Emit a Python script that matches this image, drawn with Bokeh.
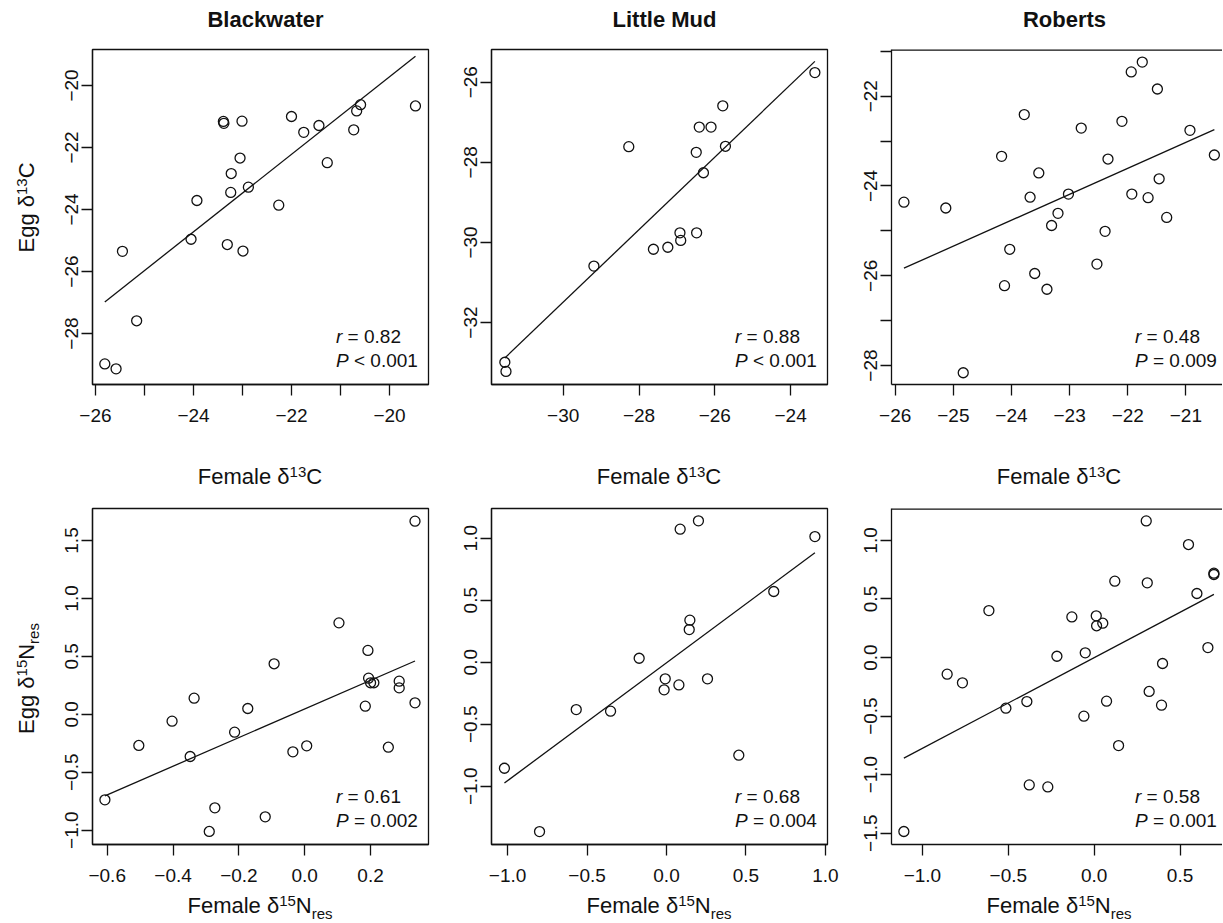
import math
from bokeh.plotting import figure
from bokeh.layouts import gridplot
from bokeh.models import Range1d, FixedTicker, Label, Span
from bokeh.embed import file_html
from bokeh.resources import INLINE

# ---------------- data ----------------
sites = ["Blackwater", "Little Mud", "Roberts"]

bw_c_female = [-25.81, -25.58, -25.45, -25.16, -24.05, -23.93, -23.39, -23.38, -23.01, -23.05,
               -23.23, -23.24, -22.88, -23.31, -22.99, -22.26, -22.00, -21.75, -21.44, -21.27,
               -20.73, -20.67, -20.59, -19.47]
bw_c_egg = [-28.98, -29.14, -25.35, -27.59, -24.96, -23.71, -21.16, -21.22, -21.15, -22.34,
            -22.84, -23.45, -23.28, -25.13, -25.34, -23.86, -21.00, -21.51, -21.29, -22.49,
            -21.43, -20.82, -20.62, -20.66]

lm_c_female = [-31.54, -31.51, -29.19, -28.27, -27.62, -27.24, -26.92, -26.90, -26.48, -26.49,
               -26.41, -26.10, -26.30, -25.72, -25.79, -23.36]
lm_c_egg = [-32.99, -33.22, -30.59, -27.61, -30.17, -30.12, -29.76, -29.95, -29.76, -27.75,
            -27.12, -27.12, -28.26, -27.60, -26.59, -25.76]

rb_c_female = [-25.85, -25.13, -24.83, -24.17, -24.12, -24.03, -23.78, -23.68, -23.53, -23.60,
               -23.39, -23.31, -23.20, -23.02, -22.80, -22.53, -22.39, -22.34, -22.10, -21.94,
               -21.75, -21.93, -21.65, -21.49, -21.46, -21.33, -20.93, -20.51]
rb_c_egg = [-24.36, -24.49, -28.16, -23.34, -26.22, -25.41, -22.41, -24.25, -23.71, -25.95,
            -26.30, -24.88, -24.61, -24.18, -22.71, -25.74, -25.01, -23.40, -22.56, -21.46,
            -21.24, -24.18, -24.26, -21.84, -23.84, -24.70, -22.76, -23.31]

bw_n_female = [-0.607, -0.504, -0.403, -0.336, -0.348, -0.290, -0.273, -0.213, -0.173, -0.120,
               -0.093, -0.036, 0.006, 0.104, 0.192, 0.194, 0.200, 0.210, 0.184, 0.254,
               0.287, 0.287, 0.335, 0.335]
bw_n_egg = [-0.738, -0.269, -0.059, 0.139, -0.364, -1.011, -0.807, -0.154, 0.050, -0.885,
            0.436, -0.324, -0.272, 0.789, 0.551, 0.312, 0.272, 0.272, 0.070, -0.284,
            0.286, 0.228, 0.099, 1.667]

lm_n_female = [-1.020, -0.799, -0.568, -0.352, -0.172, -0.008, -0.015, 0.078, 0.086, 0.201,
               0.147, 0.143, 0.258, 0.455, 0.675, 0.934]
lm_n_egg = [-0.855, -1.366, -0.382, -0.395, 0.032, -0.134, -0.223, -0.183, 1.073, 1.140,
            0.339, 0.263, -0.134, -0.750, 0.570, 1.013]

rb_n_female = [-1.108, -0.856, -0.767, -0.613, -0.514, -0.392, -0.378, -0.270, -0.217, -0.130,
               -0.052, -0.060, 0.012, 0.014, 0.050, 0.072, 0.120, 0.142, 0.303, 0.309,
               0.320, 0.392, 0.398, 0.549, 0.598, 0.662, 0.697, 0.697]
rb_n_egg = [-1.486, -0.142, -0.216, 0.401, -0.433, -0.376, -1.088, -1.105, 0.011, 0.347,
            0.040, -0.501, 0.356, 0.271, 0.293, -0.373, 0.652, -0.752, 1.167, 0.638,
            -0.290, -0.407, -0.051, 0.965, 0.547, 0.085, 0.720, 0.709]

# fitted regression lines (intercept, slope) as drawn
fit_c = [(5.28, 1.25), (-4.34, 0.905), (-10.89, 0.578)]
fit_n = [(0.046, 1.235), (-0.005, 0.950), (-0.001, 0.775)]

# statistics printed in each panel
stat_r = ["0.82", "0.88", "0.48", "0.61", "0.68", "0.58"]
stat_p = ["< 0.001", "< 0.001", "= 0.009", "= 0.002", "= 0.004", "= 0.001"]

# axis ticks: (ticks, labelled ticks)
xt_c = [([-26, -25, -24, -23, -22, -21, -20], [-26, -24, -22, -20]),
        ([-30, -28, -26, -24], [-30, -28, -26, -24]),
        ([-26, -25, -24, -23, -22, -21], [-26, -25, -24, -23, -22, -21])]
yt_c = [([-28, -26, -24, -22, -20], [-28, -26, -24, -22, -20]),
        ([-32, -30, -28, -26], [-32, -30, -28, -26]),
        ([-28, -27, -26, -25, -24, -23, -22, -21], [-28, -26, -24, -22])]
xt_n = [([-0.6, -0.4, -0.2, 0.0, 0.2], [-0.6, -0.4, -0.2, 0.0, 0.2]),
        ([-1.0, -0.5, 0.0, 0.5, 1.0], [-1.0, -0.5, 0.0, 0.5, 1.0]),
        ([-1.0, -0.5, 0.0, 0.5], [-1.0, -0.5, 0.0, 0.5])]
yt_n = [([-1.0, -0.5, 0.0, 0.5, 1.0, 1.5], [-1.0, -0.5, 0.0, 0.5, 1.0, 1.5]),
        ([-1.0, -0.5, 0.0, 0.5, 1.0], [-1.0, -0.5, 0.0, 0.5, 1.0]),
        ([-1.5, -1.0, -0.5, 0.0, 0.5, 1.0], [-1.5, -1.0, -0.5, 0.0, 0.5, 1.0])]

# axis limits
xlim_c = [(-26.061, -19.204), (-31.892, -23.027), (-26.064, -20.370)]
ylim_c = [(-29.645, -18.839), (-33.546, -25.184), (-28.422, -20.960)]
xlim_n = [(-0.6447, 0.3760), (-1.1013, 1.0132), (-1.180, 0.7470)]
ylim_n = [(-1.1236, 1.776), (-1.470, 1.2395), (-1.597, 1.2728)]

# ---------------- styling / layout ----------------
FONT = "Liberation Sans"
INK = "#111111"
YLAB_W = 44
COLS = [(404, 48, 20), (400, 43, 21), (374, 43, 0)]   # width, border left, border right
ROWS = [(381, 1, 45), (383, 2, 45)]                    # height, border top, border bottom
TITLE_H, XLAB1_H, XLAB2_H = 48, 77, 33
MID = 0.35   # a Label is anchored at the middle of its text box, across the text

ADV = {'F': .611, 'e': .556, 'm': .833, 'a': .556, 'l': .222, ' ': .278, 'δ': .556,
       'C': .722, 'N': .722, 'r': .333, 's': .5, 'E': .667, 'g': .556,
       '1': .556, '3': .556, '5': .556}


def tw(s, size):
    return sum(ADV.get(c, .556) for c in s) * size


def fmt(t, dec):
    s = f"{abs(t):.{dec}f}"
    return ("\u2212" + s) if t < 0 else s


def lab(p, x, base, text, size, style="normal", align="left"):
    """horizontal text; baseline `base` px above the frame bottom, x from frame left"""
    p.add_layout(Label(x=x, y=base + MID * size, x_units="screen", y_units="screen", text=text,
                       text_font=FONT, text_font_size=f"{size}px", text_font_style=style,
                       text_align=align, text_baseline="alphabetic", text_color=INK))


def vlab(p, base_x, y, text, size):
    """text reading upwards; baseline at x = base_x, starting at y (frame coords)"""
    p.add_layout(Label(x=base_x - MID * size, y=y, x_units="screen", y_units="screen", text=text,
                       text_font=FONT, text_font_size=f"{size}px", angle=math.pi / 2,
                       text_align="left", text_baseline="alphabetic", text_color=INK))


def rich_h(p, cx, base, parts):
    W = sum(tw(s, sz) for s, sz, _ in parts)
    x = cx - W / 2
    for s, sz, dy in parts:
        lab(p, x, base + dy, s, sz)
        x += tw(s, sz)


def rich_v(p, base, cy, parts):
    W = sum(tw(t, sz) for t, sz, _ in parts)
    y = cy - W / 2
    for t, sz, dx in parts:
        vlab(p, base - dx, y, t, sz)
        y += tw(t, sz)


def strip(w, h):
    s = figure(width=w, height=h, x_range=Range1d(0, 1), y_range=Range1d(0, 1),
               output_backend="svg", toolbar_location=None, min_border=0,
               x_axis_location=None, y_axis_location=None,
               background_fill_color="white", border_fill_color="white")
    s.outline_line_color = None
    s.xgrid.visible = False
    s.ygrid.visible = False
    return s


def panel(ci, ri, xs, ys, fit, xlim, ylim, xt, yt, dec, r_txt, p_txt):
    w, bl, br = COLS[ci]
    h, bt, bb = ROWS[ri]
    p = figure(width=w, height=h, x_range=Range1d(*xlim), y_range=Range1d(*ylim),
               output_backend="svg", toolbar_location=None,
               min_border_left=bl, min_border_right=br, min_border_top=bt, min_border_bottom=bb,
               background_fill_color="white", border_fill_color="white")
    p.xgrid.visible = False
    p.ygrid.visible = False
    if ci == 2:
        p.outline_line_color = None
        p.add_layout(Span(location=ylim[1], dimension="width", line_color=INK, line_width=2.6))
    else:
        p.outline_line_color = INK
        p.outline_line_width = 1.3
        p.outline_line_alpha = 1.0
    xax, yax = p.below[0], p.left[0]
    for ax, (ticks, shown) in ((xax, xt), (yax, yt)):
        ax.ticker = FixedTicker(ticks=ticks)
        ax.major_label_overrides = {t: (fmt(t, dec) if t in shown else "") for t in ticks}
        ax.axis_line_width = 1.3
        ax.axis_line_color = INK
        ax.major_tick_line_width = 1.3
        ax.major_tick_line_color = INK
        ax.major_tick_in = 0
        ax.major_tick_out = 11
        ax.minor_tick_line_color = None
        ax.major_label_text_font = FONT
        ax.major_label_text_font_size = "19px"
        ax.major_label_text_color = INK
    xax.major_label_standoff = 13
    yax.major_label_standoff = 3
    yax.major_label_orientation = "vertical"

    p.scatter(xs, ys, marker="circle", size=10, fill_color=None, line_color=INK, line_width=1.3)
    a, b = fit
    x0, x1 = min(xs), max(xs)
    p.line([x0, x1], [a + b * x0, a + b * x1], line_color=INK, line_width=1.3)

    # statistics (frame-relative)
    lab(p, 243.5, 41, "r", 19, style="italic")
    lab(p, 243.5 + (0.333 + 0.278) * 19, 41, "= " + r_txt, 19)
    lab(p, 243.5, 17.6, "P", 19, style="italic")
    lab(p, 243.5 + (0.667 + 0.278) * 19, 17.6, p_txt, 19)
    return p


c_data = [(bw_c_female, bw_c_egg), (lm_c_female, lm_c_egg), (rb_c_female, rb_c_egg)]
n_data = [(bw_n_female, bw_n_egg), (lm_n_female, lm_n_egg), (rb_n_female, rb_n_egg)]

# strips sit in the grid, so their frames line up with the panel frames of the same column / row
titles, row1, xl1, row2, xl2 = [None], [], [None], [], [None]

for i in range(3):
    w, bl, br = COLS[i]
    t = strip(w, TITLE_H)
    lab(t, 173, 21.3, sites[i], 22, style="bold", align="center")
    titles.append(t)

    xs, ys = c_data[i]
    row1.append(panel(i, 0, xs, ys, fit_c[i], xlim_c[i], ylim_c[i], xt_c[i], yt_c[i], 0,
                      stat_r[i], stat_p[i]))
    s = strip(w, XLAB1_H)
    rich_h(s, 167.5, 22, [("Female δ", 22, 0), ("13", 15, 7), ("C", 22, 0)])
    xl1.append(s)

    xs, ys = n_data[i]
    row2.append(panel(i, 1, xs, ys, fit_n[i], xlim_n[i], ylim_n[i], xt_n[i], yt_n[i], 1,
                      stat_r[3 + i], stat_p[3 + i]))
    s = strip(w, XLAB2_H)
    rich_h(s, 167.5, 9, [("Female δ", 22, 0), ("15", 15, 7), ("N", 22, 0), ("res", 15, -5)])
    xl2.append(s)

yl1 = strip(YLAB_W, ROWS[0][0])
rich_v(yl1, 33.5, 177, [("Egg δ", 22, 0), ("13", 15, 7), ("C", 22, 0)])
yl2 = strip(YLAB_W, ROWS[1][0])
rich_v(yl2, 33.5, 166, [("Egg δ", 22, 0), ("15", 15, 7), ("N", 22, 0), ("res", 15, -5)])

grid = gridplot([titles, [yl1] + row1, xl1, [yl2] + row2, xl2], toolbar_location=None)

open("out.html", "w").write(file_html(grid, INLINE))
